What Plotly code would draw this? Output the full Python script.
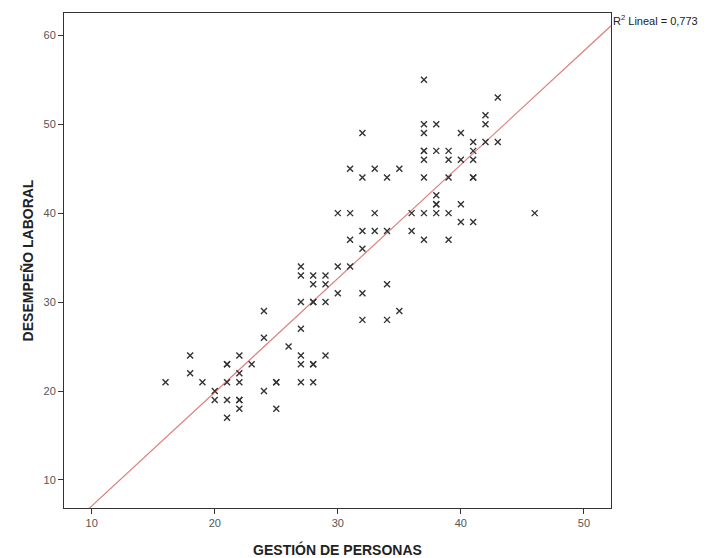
import numpy as np
import plotly.graph_objects as go

gestion = [16, 18, 18, 19, 20, 20, 21, 21, 21, 21, 21, 22, 22, 22, 22, 22, 22, 23,
           24, 24, 24, 25, 25, 25, 26,
           27, 27, 27, 27, 27, 27, 27, 28, 28, 28, 28, 28, 28, 28, 29, 29, 29, 29,
           30, 30, 30, 31, 31, 31, 31, 32, 32, 32, 32, 32, 32, 33, 33, 33,
           34, 34, 34, 34, 35, 35, 36, 36,
           37, 37, 37, 37, 37, 37, 37, 37, 37, 38, 38, 38, 38, 38, 38,
           39, 39, 39, 39, 39, 40, 40, 40, 40, 41, 41, 41, 41, 41, 41,
           42, 42, 42, 43, 43, 46]
desempeno = [21, 24, 22, 21, 20, 19, 23, 23, 21, 19, 17, 24, 22, 21, 19, 19, 18, 23,
             29, 26, 20, 21, 21, 18, 25,
             34, 33, 30, 27, 24, 23, 21, 33, 32, 30, 30, 23, 23, 21, 33, 32, 30, 24,
             40, 34, 31, 45, 40, 37, 34, 49, 44, 38, 36, 31, 28, 45, 40, 38,
             44, 38, 32, 28, 45, 29, 40, 38,
             55, 50, 49, 47, 47, 46, 44, 40, 37, 50, 47, 42, 41, 41, 40,
             47, 46, 44, 40, 37, 49, 46, 41, 39, 48, 47, 46, 44, 44, 39,
             51, 50, 48, 53, 48, 40]

r2_label = "R<sup>2</sup> Lineal = 0,773"
x_ticks = [10, 20, 30, 40, 50]
y_ticks = [10, 20, 30, 40, 50, 60]

x_range = [7.75, 52.2]
y_range = [6.85, 62.5]

xa = np.array(gestion, dtype=float)
ya = np.array(desempeno, dtype=float)
slope, intercept = np.polyfit(xa, ya, 1)
line_x = np.array(x_range)
line_y = intercept + slope * line_x

fig = go.Figure()
fig.add_trace(go.Scatter(
    x=line_x, y=line_y, mode="lines",
    line=dict(color="#dc8080", width=1.2),
    hoverinfo="skip", showlegend=False,
))
fig.add_trace(go.Scatter(
    x=gestion, y=desempeno, mode="markers",
    marker=dict(symbol="x-thin", size=6, color="#333333",
                line=dict(color="#333333", width=1.4)),
    showlegend=False,
))

axis_common = dict(
    showgrid=False, zeroline=False, showline=True, linecolor="#333333",
    linewidth=1, mirror=True, ticks="outside", ticklen=5, tickcolor="#333333",
    automargin=False,
    tickfont=dict(family="Liberation Sans, Arial", size=11, color="#555555"),
)
fig.update_xaxes(range=x_range, tickvals=x_ticks, **axis_common,
                 title=dict(text="<b>GESTIÓN DE PERSONAS</b>",
                            font=dict(family="Liberation Sans, Arial", size=14, color="#222222"),
                            standoff=16))
fig.update_yaxes(range=y_range, tickvals=y_ticks, **axis_common,
                 title=dict(text="<b>DESEMPEÑO LABORAL</b>",
                            font=dict(family="Liberation Sans, Arial", size=14, color="#222222"),
                            standoff=6))

fig.add_annotation(
    text=r2_label, xref="paper", yref="paper", x=1.0, y=0.985,
    xanchor="left", yanchor="middle", showarrow=False, xshift=0,
    font=dict(family="Liberation Sans, Arial", size=11, color="#222222"),
)

fig.update_layout(
    width=707, height=558,
    margin=dict(l=56, r=104, t=5, b=58),
    plot_bgcolor="white", paper_bgcolor="white",
)

fig.write_html("out.html")
